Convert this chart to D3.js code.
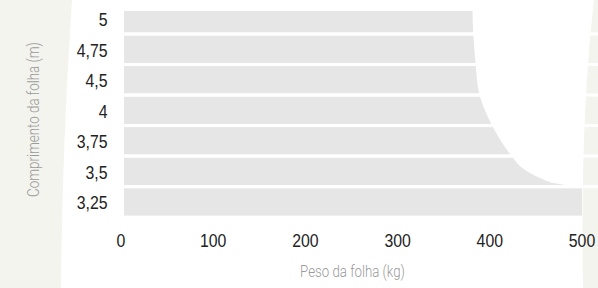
<!DOCTYPE html>
<html>
<head>
<meta charset="utf-8">
<script src="https://cdn.jsdelivr.net/npm/d3@7"></script>
<style>
  body { margin: 0; background: #f4f4ee; }
  svg { display: block; }
  text { font-family: 'Liberation Sans', Arial, sans-serif; }
  .title { font-family: Roboto, 'Liberation Sans', sans-serif; font-weight: 300; }
</style>
</head>
<body>
<div id="chart"></div>
<script>
const width = 598;
const height = 288;

// comprimento da folha (m), de cima para baixo
const lengths = ['5', '4,75', '4,5', '4', '3,75', '3,5', '3,25'];
// cada faixa vai até o limite do eixo
const bandValues = [500, 500, 500, 500, 500, 500, 500];
// curva do peso máximo: posição em faixas (0 = topo da 1ª faixa) e peso (kg)
const limitRow = [-0.3, 0.9, 1.9, 2.9, 3.8, 4.4, 4.9, 5.4, 5.7, 5.85, 5.93];
const limitWeight = [381, 382, 384.5, 388.5, 400, 411, 422.5, 438, 457, 472, 490];
const xTicks = [0, 100, 200, 300, 400, 500];

const margin = { top: 5, left: 121, right: 16, plotTop: 11, bottom: 215.6 };
const narrow = 0.88; // fonte condensada

const svg = d3.select('#chart')
  .append('svg')
  .attr('width', width)
  .attr('height', height);

// fundo: forma branca sobre o creme
svg.append('rect')
  .attr('width', width)
  .attr('height', height)
  .attr('fill', '#f4f4ee');

svg.append('path')
  .attr('d', 'M72,0 Q62,150 61,288 L583,288 Q580,120 594,0 Z')
  .attr('fill', '#ffffff');

const xScale = d3.scaleLinear()
  .domain([0, 500])
  .range([margin.left, width - margin.right]);

const yScale = d3.scaleBand()
  .domain(lengths)
  .range([margin.top, margin.bottom])
  .paddingInner(0.1)
  .paddingOuter(0);

const rowScale = d3.scaleLinear()
  .domain([0, 1])
  .range([margin.top, margin.top + yScale.step()]);

svg.append('clipPath')
  .attr('id', 'plot-clip')
  .append('rect')
  .attr('x', 0)
  .attr('y', margin.plotTop)
  .attr('width', width)
  .attr('height', height - margin.plotTop);

const plot = svg.append('g').attr('clip-path', 'url(#plot-clip)');

plot.selectAll('.band')
  .data(lengths)
  .enter()
  .append('rect')
  .attr('class', 'band')
  .attr('x', xScale(0) + 3)
  .attr('y', d => yScale(d))
  .attr('width', (d, i) => xScale(bandValues[i]) - xScale(0) - 3)
  .attr('height', yScale.bandwidth())
  .attr('fill', '#e6e6e6');

const limitData = limitRow.map((r, i) => ({ row: r, weight: limitWeight[i] }));

const limitArea = d3.area()
  .y(d => rowScale(d.row))
  .x0(d => xScale(d.weight))
  .x1(xScale(500) + 1)
  .curve(d3.curveMonotoneY);

plot.append('path')
  .datum(limitData)
  .attr('d', limitArea)
  .attr('fill', '#ffffff');

// linhas brancas entre as faixas
const gapPad = yScale.step() - yScale.bandwidth();
plot.selectAll('.gap')
  .data(lengths.slice(0, -1))
  .enter()
  .append('line')
  .attr('class', 'gap')
  .attr('x1', xScale(0))
  .attr('x2', width)
  .attr('y1', d => yScale(d) + yScale.bandwidth() + gapPad / 2)
  .attr('y2', d => yScale(d) + yScale.bandwidth() + gapPad / 2)
  .attr('stroke', '#ffffff')
  .attr('stroke-width', gapPad);

// rótulos do eixo y
svg.selectAll('.ylabel')
  .data(lengths)
  .enter()
  .append('text')
  .attr('class', 'ylabel')
  .attr('transform', d => `translate(107.5,${yScale(d) + yScale.bandwidth() / 2 + 1}) scale(${narrow},1)`)
  .attr('dy', '0.36em')
  .attr('text-anchor', 'end')
  .attr('font-size', 18)
  .attr('fill', '#222')
  .text(d => d);

// rótulos do eixo x
svg.selectAll('.xlabel')
  .data(xTicks)
  .enter()
  .append('text')
  .attr('class', 'xlabel')
  .attr('transform', d => `translate(${xScale(d)},246.5) scale(${narrow},1)`)
  .attr('text-anchor', 'middle')
  .attr('font-size', 18)
  .attr('fill', '#222')
  .text(d => d);

// títulos: ajustados à largura medida
function fitTitle(sel, target) {
  const len = sel.node().getComputedTextLength();
  return target / len;
}

const xTitle = svg.append('text')
  .attr('class', 'title')
  .attr('text-anchor', 'middle')
  .attr('font-size', 16)
  .attr('fill', '#9a9a9a')
  .text('Peso da folha (kg)');
xTitle.attr('transform', `translate(352.5,277) scale(${fitTitle(xTitle, 105)},1)`);

const yTitle = svg.append('text')
  .attr('class', 'title')
  .attr('text-anchor', 'middle')
  .attr('font-size', 16)
  .attr('fill', '#9a9a9a')
  .text('Comprimento da folha (m)');
yTitle.attr('transform', `translate(39,119.5) rotate(-90) scale(${fitTitle(yTitle, 155)},1)`);
</script>
</body>
</html>
